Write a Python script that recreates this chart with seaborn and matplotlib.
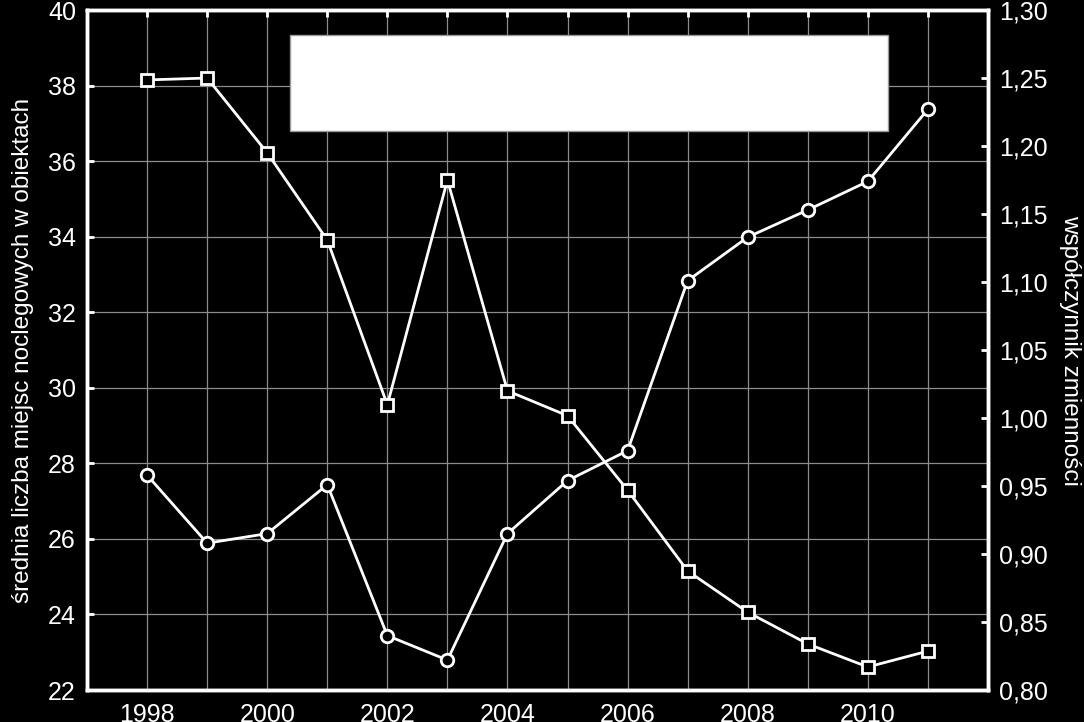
import numpy as np
import pandas as pd
import matplotlib
matplotlib.use('Agg')
import matplotlib.pyplot as plt
import seaborn as sns
from matplotlib.patches import Rectangle
from matplotlib.ticker import FuncFormatter, MultipleLocator

years = list(range(1998, 2012))
srednia = [38.15, 38.20, 36.22, 33.91, 29.55, 35.50, 29.92, 29.26, 27.29, 25.15, 24.06, 23.22, 22.61, 23.03]
wspolczynnik = [0.958, 0.908, 0.915, 0.951, 0.840, 0.822, 0.915, 0.954, 0.976, 1.101, 1.133, 1.153, 1.174, 1.227]

df = pd.DataFrame({'rok': years, 'srednia': srednia, 'wsp': wspolczynnik})

sns.set_style('dark')
plt.rcParams['font.family'] = ['Liberation Sans', 'DejaVu Sans']
plt.rcParams['axes.unicode_minus'] = False

fig = plt.figure(figsize=(10.84, 7.22), dpi=100, facecolor='black')
ax = fig.add_axes([0.0803, 0.0443, 0.8311, 0.9418])
ax.set_facecolor('black')
ax2 = ax.twinx()

sns.lineplot(data=df, x='rok', y='srednia', ax=ax, color='white', lw=2,
             marker='s', markersize=9, markerfacecolor='black',
             markeredgecolor='white', markeredgewidth=2)
sns.lineplot(data=df, x='rok', y='wsp', ax=ax2, color='white', lw=2,
             marker='o', markersize=9, markerfacecolor='black',
             markeredgecolor='white', markeredgewidth=2)

ax.set_xlim(1997, 2012)
ax.set_ylim(22, 40)
ax2.set_ylim(0.80, 1.30)
ax.xaxis.set_major_locator(MultipleLocator(1))
ax.xaxis.set_major_formatter(FuncFormatter(lambda v, p: f'{int(v)}' if int(v) % 2 == 0 and 1998 <= v <= 2010 else ''))
ax.yaxis.set_major_locator(MultipleLocator(2))
ax2.yaxis.set_major_locator(MultipleLocator(0.05))
ax2.yaxis.set_major_formatter(FuncFormatter(lambda v, p: f'{v:.2f}'.replace('.', ',')))

# siatka tylko od lat 1998-2011 i lewej osi
ax.grid(False)
ax2.grid(False)
for y in years:
    ax.axvline(y, color='#8c8c8c', lw=0.9, zorder=0)
for v in range(24, 40, 2):
    ax.axhline(v, color='#8c8c8c', lw=0.9, zorder=0)

for a in (ax, ax2):
    for s in a.spines.values():
        s.set_color('white')
        s.set_linewidth(2.5)
    a.tick_params(colors='white', labelsize=18, direction='in', length=5, width=2)
ax.tick_params(axis='x', top=True, pad=9)
ax.tick_params(axis='y', pad=8)
ax2.tick_params(axis='y', pad=8)

ax.set_xlabel('')
ax.set_ylabel('średnia liczba miejsc noclegowych w obiektach', color='white', fontsize=17.5, labelpad=10)
ax2.set_ylabel('współczynnik zmienności', color='white', fontsize=17.5, rotation=270, labelpad=24)

ax2.add_patch(Rectangle((0.225, 0.822), 0.664, 0.141, transform=ax2.transAxes,
                        facecolor='white', edgecolor='#999999', lw=1, zorder=5))

fig.savefig('out.png', dpi=100, facecolor='black')
